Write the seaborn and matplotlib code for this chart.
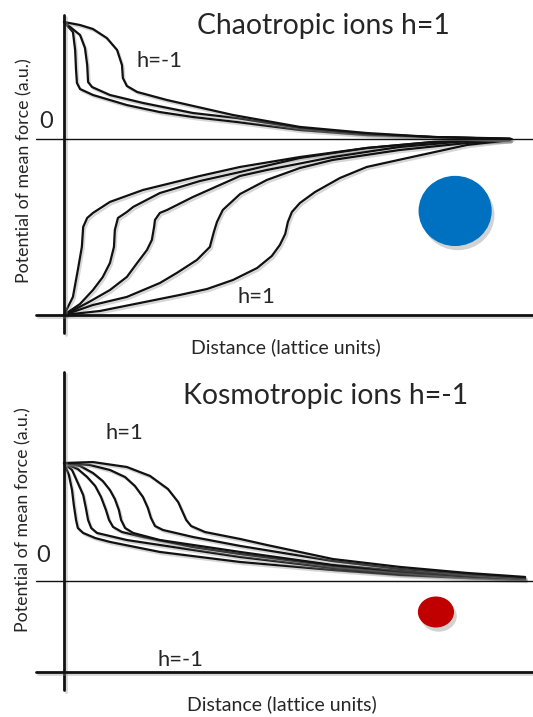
import matplotlib
matplotlib.use("Agg")
import matplotlib.pyplot as plt
import matplotlib.patheffects as pe
from matplotlib.patches import Ellipse
import pandas as pd
import seaborn as sns

# ---- Chaotropic ions (h=1): PMF curves, distance in lattice units, PMF in a.u.
chao_rep1_x = [0, 0.20, 0.25, 0.27, 0.29, 0.36, 0.65, 1.41, 2.15, 2.89, 3.88, 5.29, 6.79, 8.27, 10.0]
chao_rep1_y = [1.0, 0.915, 0.76, 0.59, 0.479, 0.427, 0.376, 0.29, 0.23, 0.188, 0.145, 0.077, 0.034, 0.017, 0.004]
chao_rep2_x = [0, 0.36, 0.47, 0.52, 0.54, 0.63, 1.03, 1.77, 2.89, 3.88, 5.29, 6.79, 8.27, 10.0]
chao_rep2_y = [1.0, 0.889, 0.778, 0.632, 0.487, 0.444, 0.376, 0.308, 0.222, 0.179, 0.094, 0.043, 0.017, 0.0]
chao_rep3_x = [0, 0.36, 0.65, 0.96, 1.19, 1.30, 1.32, 1.41, 1.64, 2.31, 3.79, 5.29, 6.79, 8.27, 10.04]
chao_rep3_y = [1.0, 0.974, 0.940, 0.863, 0.761, 0.632, 0.521, 0.453, 0.402, 0.333, 0.205, 0.103, 0.051, 0.017, 0.0]

chao_att1_x = [0, 0.20, 0.31, 0.40, 0.43, 0.52, 0.65, 1.03, 1.77, 3.05, 3.95, 5.29, 6.79, 8.27, 10.0]
chao_att1_y = [-1.504, -1.350, -1.120, -0.923, -0.752, -0.675, -0.632, -0.538, -0.436, -0.316, -0.239, -0.154, -0.077, -0.026, -0.009]
chao_att2_x = [0, 0.36, 0.65, 0.87, 1.03, 1.12, 1.14, 1.21, 1.41, 1.55, 2.15, 3.05, 3.95, 5.29, 6.79, 8.27, 10.0]
chao_att2_y = [-1.504, -1.410, -1.291, -1.180, -1.060, -0.923, -0.778, -0.675, -0.624, -0.581, -0.462, -0.359, -0.282, -0.162, -0.077, -0.026, -0.009]
chao_att3_x = [0, 0.52, 1.03, 1.41, 1.64, 1.86, 1.97, 2.02, 2.04, 2.15, 2.31, 2.89, 3.95, 4.55, 6.03, 7.53, 9.04, 10.0]
chao_att3_y = [-1.504, -1.402, -1.291, -1.179, -1.060, -0.949, -0.863, -0.752, -0.692, -0.632, -0.607, -0.496, -0.316, -0.265, -0.154, -0.068, -0.017, -0.009]
chao_att4_x = [0, 0.65, 1.41, 2.15, 2.53, 2.98, 3.27, 3.36, 3.43, 3.56, 3.95, 4.55, 5.29, 6.03, 7.53, 9.04, 10.0]
chao_att4_y = [-1.504, -1.419, -1.350, -1.231, -1.145, -1.034, -0.923, -0.795, -0.709, -0.607, -0.470, -0.350, -0.248, -0.179, -0.094, -0.034, -0.009]
chao_att5_x = [0, 0.81, 1.70, 2.60, 3.21, 3.79, 4.33, 4.66, 4.84, 4.96, 5.02, 5.11, 5.29, 5.63, 6.19, 6.79, 7.91, 9.04, 10.0]
chao_att5_y = [-1.504, -1.470, -1.402, -1.333, -1.282, -1.205, -1.103, -1.000, -0.906, -0.812, -0.709, -0.624, -0.547, -0.453, -0.333, -0.239, -0.145, -0.051, -0.009]

# ---- Kosmotropic ions (h=-1)
kosmo1_x = [0, 0.11, 0.18, 0.22, 0.27, 0.31, 0.43, 0.70, 1.03, 2.15, 3.95, 6.03, 7.53, 9.04, 10.34]
kosmo1_y = [1.0, 0.898, 0.771, 0.644, 0.517, 0.449, 0.407, 0.364, 0.331, 0.246, 0.161, 0.093, 0.051, 0.025, 0.008]
kosmo2_x = [0, 0.18, 0.31, 0.43, 0.49, 0.54, 0.61, 0.74, 1.41, 2.89, 3.95, 6.03, 7.53, 9.04, 10.34]
kosmo2_y = [1.0, 0.941, 0.831, 0.729, 0.619, 0.517, 0.449, 0.407, 0.347, 0.263, 0.203, 0.110, 0.059, 0.034, 0.017]
kosmo3_x = [0, 0.31, 0.52, 0.70, 0.83, 0.94, 1.01, 1.10, 1.30, 1.77, 2.89, 3.95, 6.03, 7.53, 9.04, 10.34]
kosmo3_y = [1.0, 0.949, 0.881, 0.805, 0.712, 0.602, 0.517, 0.458, 0.415, 0.373, 0.288, 0.229, 0.127, 0.076, 0.042, 0.017]
kosmo4_x = [0, 0.36, 0.65, 0.87, 1.03, 1.14, 1.23, 1.28, 1.37, 1.55, 2.15, 3.95, 6.03, 7.53, 9.04, 10.34]
kosmo4_y = [1.0, 0.975, 0.915, 0.847, 0.771, 0.695, 0.602, 0.517, 0.449, 0.407, 0.347, 0.246, 0.136, 0.085, 0.042, 0.017]
kosmo5_x = [0, 0.58, 1.03, 1.37, 1.59, 1.77, 1.88, 1.95, 2.04, 2.22, 2.89, 3.95, 6.03, 7.53, 9.04, 10.34]
kosmo5_y = [1.0, 0.983, 0.941, 0.881, 0.805, 0.712, 0.619, 0.534, 0.466, 0.432, 0.373, 0.297, 0.169, 0.102, 0.059, 0.025]
kosmo6_x = [0, 0.65, 1.41, 1.93, 2.33, 2.56, 2.67, 2.74, 2.85, 3.16, 3.95, 4.55, 6.03, 7.53, 9.04, 10.34]
kosmo6_y = [1.0, 1.008, 0.966, 0.890, 0.780, 0.669, 0.576, 0.517, 0.466, 0.415, 0.356, 0.305, 0.186, 0.119, 0.068, 0.034]

# ion symbols: (centre x, centre y, width, height)
chao_ion = (8.77, -0.615, 1.64, 0.60)
kosmo_ion = (8.34, -0.263, 0.81, 0.263)

titles = ["Chaotropic ions h=1", "Kosmotropic ions h=-1"]
x_label = "Distance (lattice units)"
y_label = "Potential of mean force (a.u.)"


def long_frame(curves):
    rows = []
    for name, xs, ys in curves:
        for x, y in zip(xs, ys):
            rows.append({"curve": name, "distance": x, "pmf": y})
    return pd.DataFrame(rows)


chao_df = long_frame([
    ("r1", chao_rep1_x, chao_rep1_y), ("r2", chao_rep2_x, chao_rep2_y), ("r3", chao_rep3_x, chao_rep3_y),
    ("a1", chao_att1_x, chao_att1_y), ("a2", chao_att2_x, chao_att2_y), ("a3", chao_att3_x, chao_att3_y),
    ("a4", chao_att4_x, chao_att4_y), ("a5", chao_att5_x, chao_att5_y),
])
kosmo_df = long_frame([
    ("k1", kosmo1_x, kosmo1_y), ("k2", kosmo2_x, kosmo2_y), ("k3", kosmo3_x, kosmo3_y),
    ("k4", kosmo4_x, kosmo4_y), ("k5", kosmo5_x, kosmo5_y), ("k6", kosmo6_x, kosmo6_y),
])

sns.set_style("white")
plt.rcParams["font.family"] = ["Lato", "DejaVu Sans"]

W, H = 533, 717
fig = plt.figure(figsize=(W / 100, H / 100), dpi=100)
split = 358
ax_top = fig.add_axes([0, 1 - split / H, 1, split / H])
ax_bot = fig.add_axes([0, 0, 1, 1 - split / H])

shadow = [pe.SimpleLineShadow(offset=(1.2, -1.5), shadow_color="0.55", alpha=0.35), pe.Normal()]
ink = "#111111"
txt = "#262626"


def draw_panel(ax, df, ylim, axis_top, axis_bottom, base_y, ion, ion_color):
    sns.lineplot(data=df, x="distance", y="pmf", units="curve", estimator=None, sort=False,
                 color=ink, linewidth=1.6, legend=False, ax=ax)
    for ln in ax.lines:
        ln.set_path_effects(shadow)
        ln.set_solid_capstyle("round")
        ln.set_solid_joinstyle("round")
    ax.set_xlim(-1.435, 10.516)
    ax.set_ylim(*ylim)
    # hand-drawn style axes
    ax.plot([0, 0], [axis_bottom, axis_top], color=ink, lw=2.0, path_effects=shadow)
    ax.plot([-0.63, 10.6], [0, 0], color=ink, lw=1.0)
    ax.plot([-0.63, 10.6], [base_y, base_y], color=ink, lw=2.0, path_effects=shadow)
    cx, cy, w, h = ion
    ell = Ellipse((cx, cy), w, h, facecolor=ion_color, edgecolor="none", zorder=3)
    ell.set_path_effects([pe.SimplePatchShadow(offset=(2, -3), shadow_rgbFace="0.5", alpha=0.35), pe.Normal()])
    ax.add_patch(ell)
    ax.set_axis_off()


draw_panel(ax_top, chao_df, (-1.872, 1.188), 1.06, -1.658, -1.504, chao_ion, "#0070C0")
draw_panel(ax_bot, kosmo_df, (-1.153, 1.890), 1.771, -0.924, -0.771, kosmo_ion, "#C00000")


def ftext(px, py, s, **kw):
    fig.text(px / W, 1 - py / H, s, color=txt, ha="center", va="center", **kw)


# upper panel texts
ftext(323, 26, titles[0], fontsize=20.4)
ftext(159, 61, "h=-1", fontsize=15.8)
ftext(256, 297, "h=1", fontsize=15.8)
ftext(46, 122, "0", fontsize=17)
ftext(24, 171, y_label, fontsize=12.8, rotation=90)
ftext(286, 347, x_label, fontsize=14)

# lower panel texts
ftext(326, 396, titles[1], fontsize=20.4)
ftext(124, 433, "h=1", fontsize=15.8)
ftext(43, 555, "0", fontsize=17)
ftext(181, 660, "h=-1", fontsize=15.8)
ftext(23, 520, y_label, fontsize=12.8, rotation=90)
ftext(282, 704, x_label, fontsize=14)

fig.savefig("out.png", dpi=100, facecolor="white")
